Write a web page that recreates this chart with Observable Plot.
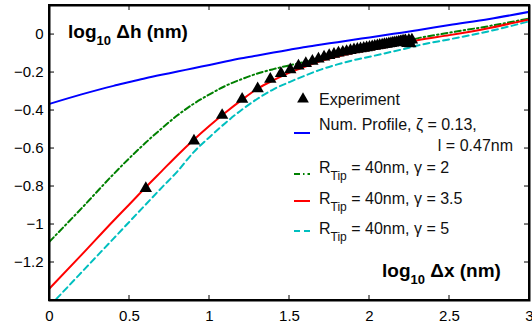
<!DOCTYPE html>
<html>
<head>
<meta charset="utf-8">
<script src="https://cdn.jsdelivr.net/npm/d3@7"></script>
<script src="https://cdn.jsdelivr.net/npm/@observablehq/plot@0.6"></script>
<style>
  html, body { margin: 0; padding: 0; background: #fff; }
  #chart svg { display: block; }
</style>
</head>
<body>
<div id="chart"></div>
<script>
// ---- data ----
const curveX = [0, 0.2, 0.4, 0.5, 0.6, 0.7, 0.8, 0.9, 1.0, 1.1, 1.2, 1.3, 1.4, 1.5, 1.6, 1.7, 1.8, 1.9, 2.0, 2.1, 2.2, 2.3, 2.5, 2.75, 3.0];
const blueY  = [-0.365, -0.315, -0.27, -0.25, -0.23, -0.212, -0.195, -0.177, -0.16, -0.142, -0.125, -0.11, -0.095, -0.08, -0.065, -0.052, -0.04, -0.027, -0.015, -0.002, 0.01, 0.023, 0.05, 0.082, 0.12];
const greenY = [-1.09, -0.915, -0.735, -0.65, -0.57, -0.495, -0.425, -0.365, -0.315, -0.27, -0.235, -0.205, -0.182, -0.162, -0.143, -0.12, -0.103, -0.087, -0.07, -0.056, -0.042, -0.02, 0.01, 0.045, 0.085];
const redY   = [-1.337, -1.16, -0.98, -0.893, -0.805, -0.72, -0.635, -0.555, -0.48, -0.41, -0.345, -0.285, -0.24, -0.2, -0.168, -0.138, -0.115, -0.097, -0.082, -0.067, -0.05, -0.03, -0.003, 0.035, 0.08];
const cyanY  = [-1.43, -1.252, -1.074, -0.985, -0.896, -0.807, -0.72, -0.62, -0.54, -0.465, -0.397, -0.338, -0.288, -0.25, -0.215, -0.183, -0.157, -0.135, -0.117, -0.098, -0.079, -0.058, -0.025, 0.018, 0.07];

const expX = [0.602, 0.903, 1.079, 1.204, 1.301, 1.380, 1.447, 1.505, 1.556, 1.602, 1.643, 1.681, 1.716, 1.748, 1.778, 1.806, 1.833, 1.857, 1.881, 1.903, 1.924, 1.944, 1.964, 1.982, 2.000, 2.017, 2.033, 2.049, 2.064, 2.079, 2.093, 2.107, 2.121, 2.134, 2.146, 2.158, 2.170, 2.182, 2.193, 2.204, 2.215, 2.225, 2.236, 2.246, 2.255, 2.265];
const expY = [-0.81, -0.56, -0.425, -0.34, -0.285, -0.235, -0.205, -0.185, -0.165, -0.152, -0.14, -0.128, -0.118, -0.11, -0.103, -0.097, -0.092, -0.088, -0.084, -0.08, -0.077, -0.074, -0.071, -0.069, -0.066, -0.063, -0.061, -0.058, -0.056, -0.054, -0.052, -0.05, -0.048, -0.046, -0.044, -0.043, -0.041, -0.039, -0.037, -0.035, -0.034, -0.032, -0.046, -0.03, -0.048, -0.028];

const xTicks = [0, 0.5, 1, 1.5, 2, 2.5, 3];
const yTicks = [-1.2, -1, -0.8, -0.6, -0.4, -0.2, 0];

const seriesColors = {blue: "#0000ff", green: "#008000", red: "#ff0000", cyan: "#00bfbf"};

// ---- tables ----
const curves = curveX.map((x, i) => ({x, blue: blueY[i], green: greenY[i], red: redY[i], cyan: cyanY[i]}));
const exp = expX.map((x, i) => ({x, y: expY[i]}));

const fmt = d => d === 0 ? "0" : (d < 0 ? "\u2212" : "") + String(Math.abs(d));
const FONT = "Liberation Sans, Arial, Helvetica, sans-serif";

const plot = Plot.plot({
  width: 532,
  height: 327,
  marginLeft: 49,
  marginRight: 3,
  marginTop: 5,
  marginBottom: 27,
  style: {fontFamily: FONT, fontSize: "15px"},
  x: {domain: [0, 3]},
  y: {domain: [-1.4, 0.153]},
  marks: [
    Plot.lineY(curves, {x: "x", y: "blue", stroke: seriesColors.blue, strokeWidth: 2, curve: "monotone-x", clip: true}),
    Plot.lineY(curves, {x: "x", y: "green", stroke: seriesColors.green, strokeWidth: 2, strokeDasharray: "6,3,1.5,3", curve: "monotone-x", clip: true}),
    Plot.lineY(curves, {x: "x", y: "cyan", stroke: seriesColors.cyan, strokeWidth: 2, strokeDasharray: "6,4", curve: "monotone-x", clip: true}),
    Plot.lineY(curves, {x: "x", y: "red", stroke: seriesColors.red, strokeWidth: 2, curve: "monotone-x", clip: true}),
    Plot.dot(exp, {x: "x", y: "y", symbol: "triangle", fill: "black", r: 4.6, clip: true}),
    Plot.axisX(xTicks, {anchor: "bottom", tickSize: 0, tickPadding: 10, label: null, tickFormat: fmt}),
    Plot.axisY(yTicks, {anchor: "left", tickSize: 0, tickPadding: 6, label: null, tickFormat: fmt}),
    Plot.frame({stroke: "black", strokeWidth: 2})
  ]
});

document.getElementById("chart").appendChild(plot);

const sx = plot.scale("x"), sy = plot.scale("y");
const [x0, x1] = sx.range, [y0, y1] = sy.range; // y0 bottom, y1 top
const svg = d3.select(plot);

// ---- axis titles and legend (rich text with subscripts) ----
const g = svg.append("g").attr("font-family", FONT).attr("text-anchor", "start");

function title(x, y, main, sub, rest) {
  const t = g.append("text").attr("x", x).attr("y", y).attr("font-weight", "bold").attr("font-size", 19).attr("fill", "black");
  t.append("tspan").text(main);
  t.append("tspan").attr("font-size", 13).attr("dy", 7).text(sub);
  t.append("tspan").attr("dy", -7).text(rest);
}
title(68, 38, "log", "10", " \u0394h (nm)");
title(382, 277, "log", "10", " \u0394x (nm)");

const legendItems = [
  {label: "Experiment"},
  {label: "Num. Profile, \u03b6 = 0.13,", label2: "l = 0.47nm", color: seriesColors.blue},
  {label: "R", sub: "Tip", rest: " = 40nm, \u03b3 = 2", color: seriesColors.green, dash: "6,3,1.5,3"},
  {label: "R", sub: "Tip", rest: " = 40nm, \u03b3 = 3.5", color: seriesColors.red},
  {label: "R", sub: "Tip", rest: " = 40nm, \u03b3 = 5", color: seriesColors.cyan, dash: "6,4"}
];
const lx = 319, baselines = [105, 130, 173, 204, 234], sampleY = [99, 133, 174, 201, 231];
legendItems.forEach((d, i) => {
  if (i === 0) {
    g.append("path").attr("d", d3.symbol(d3.symbolTriangle, 60)()).attr("transform", `translate(303,${sampleY[i]})`).attr("fill", "black");
  } else {
    g.append("line").attr("x1", 294).attr("x2", 310).attr("y1", sampleY[i]).attr("y2", sampleY[i])
      .attr("stroke", d.color).attr("stroke-width", 2).attr("stroke-dasharray", d.dash || null);
  }
  const t = g.append("text").attr("x", lx).attr("y", baselines[i]).attr("font-size", 16).attr("fill", "#111");
  t.append("tspan").text(d.label);
  if (d.sub) {
    t.append("tspan").attr("font-size", 12).attr("dy", 7).text(d.sub);
    t.append("tspan").attr("dy", -7).text(d.rest);
  }
  if (d.label2) {
    g.append("text").attr("x", 513).attr("y", 151).attr("font-size", 16).attr("text-anchor", "end").attr("fill", "#111").text(d.label2);
  }
});

// ---- frame and inward ticks, positioned through Plot's own scales (drawn last) ----
function seg(xa, ya, xb, yb, w) {
  svg.append("line").attr("x1", xa).attr("y1", ya).attr("x2", xb).attr("y2", yb)
    .attr("stroke", "#000000").attr("stroke-width", w).attr("fill", "none");
}
xTicks.forEach(v => {
  const px = sx.apply(v);
  seg(px, y0, px, y0 - 5, 1);
  seg(px, y1, px, y1 + 5, 1);
});
yTicks.forEach(v => {
  const py = sy.apply(v);
  seg(x0, py, x0 + 5, py, 1);
  seg(x1, py, x1 - 5, py, 1);
});
seg(x0, y0, x1, y0, 2);
seg(x0, y1, x1, y1, 2);
seg(x0, y0 + 1, x0, y1 - 1, 2);
seg(x1, y0 + 1, x1, y1 - 1, 2);
</script>
</body>
</html>
